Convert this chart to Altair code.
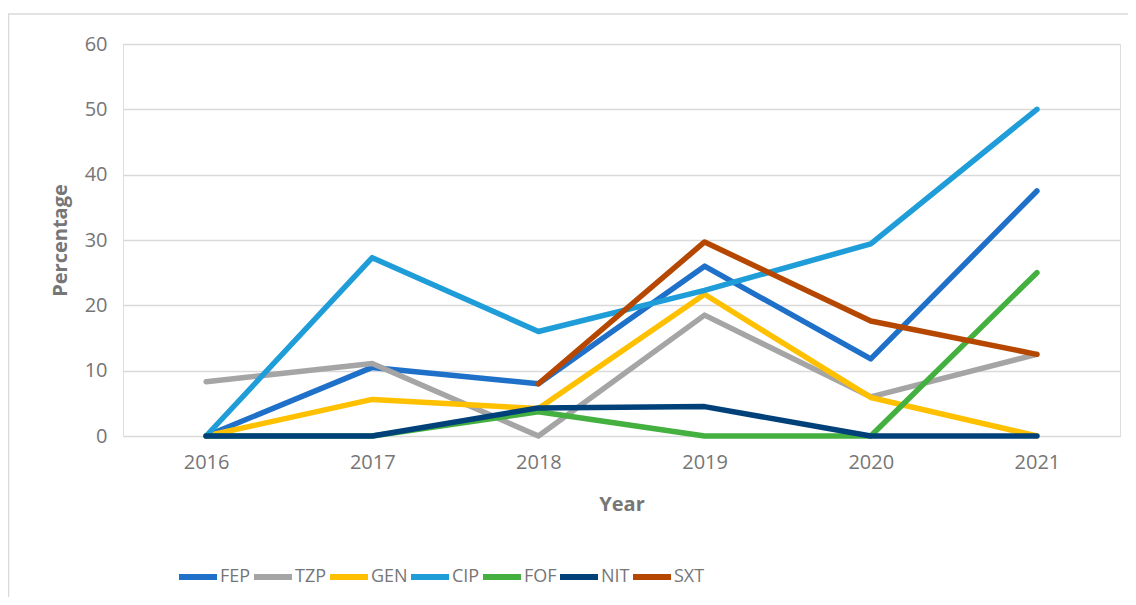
import altair as alt
import pandas as pd

years = ["2016", "2017", "2018", "2019", "2020", "2021"]
series = ["FEP", "TZP", "GEN", "CIP", "FOF", "NIT", "SXT"]
colors = ["#1f70c8", "#a5a5a5", "#ffc000", "#1e9dd8", "#44b03f", "#00417a", "#b54700"]

FEP = [0, 10.5, 8.0, 26.0, 11.8, 37.5]
TZP = [8.3, 11.1, 0, 18.5, 6.0, 12.5]
GEN = [0, 5.6, 4.2, 21.7, 5.9, 0]
CIP = [0, 27.3, 16.0, 22.3, 29.4, 50.0]
FOF = [0, 0, 3.7, 0, 0, 25.0]
NIT = [0, 0, 4.3, 4.5, 0, 0]
SXT = [None, None, 8.0, 29.7, 17.6, 12.5]

values = {"FEP": FEP, "TZP": TZP, "GEN": GEN, "CIP": CIP, "FOF": FOF, "NIT": NIT, "SXT": SXT}

rows = []
for i, s in enumerate(series):
    for y, v in zip(years, values[s]):
        if v is not None:
            rows.append({"Year": y, "Percentage": v, "Series": s, "order": i})
df = pd.DataFrame(rows)

FONT = "Open Sans"
TXT = "#767676"
W, H = 997, 392

lines = alt.Chart(df).mark_line(strokeWidth=5.5, strokeCap="round", strokeJoin="round").encode(
    x=alt.X("Year:O", sort=years,
            scale=alt.Scale(type="point", padding=0.5),
            axis=alt.Axis(title="Year", labelAngle=0, ticks=False, tickSize=0, domain=False, grid=False,
                          labelPadding=16, labelFontSize=20, labelColor=TXT, labelFont=FONT,
                          titleFontSize=20, titleFont=FONT, titleColor=TXT, titleFontWeight="bold",
                          titleY=68, titleX=W / 2, titleBaseline="middle")),
    y=alt.Y("Percentage:Q", scale=alt.Scale(domain=[0, 60], nice=False),
            axis=alt.Axis(title="Percentage", values=[0, 10, 20, 30, 40, 50, 60], ticks=False, tickSize=0,
                          domain=False, grid=True, gridColor="#d9d9d9", gridWidth=1.5,
                          labelPadding=16, labelFontSize=20, labelColor=TXT, labelFont=FONT,
                          titleFontSize=20, titleFont=FONT, titleColor=TXT, titleFontWeight="bold",
                          titleX=-63, titleY=H / 2, titleBaseline="middle")),
    color=alt.Color("Series:N", sort=series,
                    scale=alt.Scale(domain=series, range=colors),
                    legend=alt.Legend(title=None, orient="none", direction="horizontal", columns=7,
                                      legendX=53, legendY=511, symbolType="stroke", symbolSize=1444,
                                      symbolStrokeWidth=6, labelOffset=0, columnPadding=-13,
                                      labelFontSize=18, labelFont=FONT, labelColor=TXT)),
    order=alt.Order("order:Q"),
    detail="Series:N",
)

border = alt.Chart(pd.DataFrame({"a": [0]})).mark_rect(fill=None, stroke="#d9d9d9", strokeWidth=1.5).encode(
    x=alt.value(-114.5), x2=alt.value(W + 400), y=alt.value(-30), y2=alt.value(H + 400)
)

chart = alt.layer(border, lines).properties(
    width=W, height=H,
    autosize=alt.AutoSizeParams(type="none"),
    padding={"left": 115, "top": 36, "right": 8, "bottom": 161},
).configure_view(stroke=None).configure(background="white")

chart.save("out.html", embed_options={"renderer": "svg", "actions": False})
